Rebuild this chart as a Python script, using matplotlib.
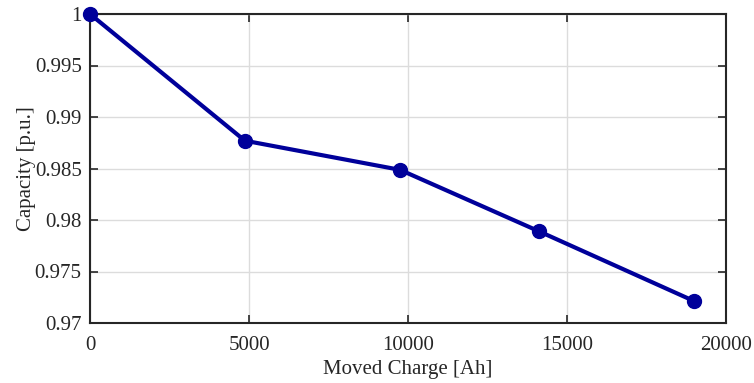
import matplotlib
matplotlib.use("Agg")
import matplotlib.pyplot as plt

moved_charge = [0, 4870, 9750, 14120, 18980]
capacity = [1.0, 0.9877, 0.98487, 0.9789, 0.97215]
xticks = [0, 5000, 10000, 15000, 20000]
yticks = [0.97, 0.975, 0.98, 0.985, 0.99, 0.995, 1.0]
ytick_labels = ["0.97", "0.975", "0.98", "0.985", "0.99", "0.995", "1"]

plt.rcParams['font.family'] = ['Liberation Serif', 'DejaVu Serif']
fig = plt.figure(figsize=(7.54, 3.83), dpi=100)
ax = fig.add_axes([90/754, 1 - 323/383, (726-90)/754, (323-14)/383])

ax.plot(moved_charge, capacity, color='#00009a', lw=3, marker='o', ms=10,
        clip_on=False, zorder=3)
ax.set_xlim(0, 20000)
ax.set_ylim(0.97, 1.0)
ax.set_xticks(xticks)
ax.set_xticklabels([str(t) for t in xticks])
ax.set_yticks(yticks)
ax.set_yticklabels(ytick_labels)
ax.grid(True, color='#dcdcdc', lw=1)
ax.set_axisbelow(True)
for s in ax.spines.values():
    s.set_linewidth(1.5)
    s.set_color('#262626')
ax.tick_params(direction='in', top=True, right=True, length=6, width=1.2,
               labelsize=15, colors='#262626')
ax.tick_params(axis='x', pad=9)
ax.tick_params(axis='y', pad=6)
ax.set_xlabel('Moved Charge [Ah]', fontsize=15, color='#262626', labelpad=4)
ax.set_ylabel('Capacity [p.u.]', fontsize=15, color='#262626', labelpad=-1)
fig.savefig('out.png', dpi=100)
